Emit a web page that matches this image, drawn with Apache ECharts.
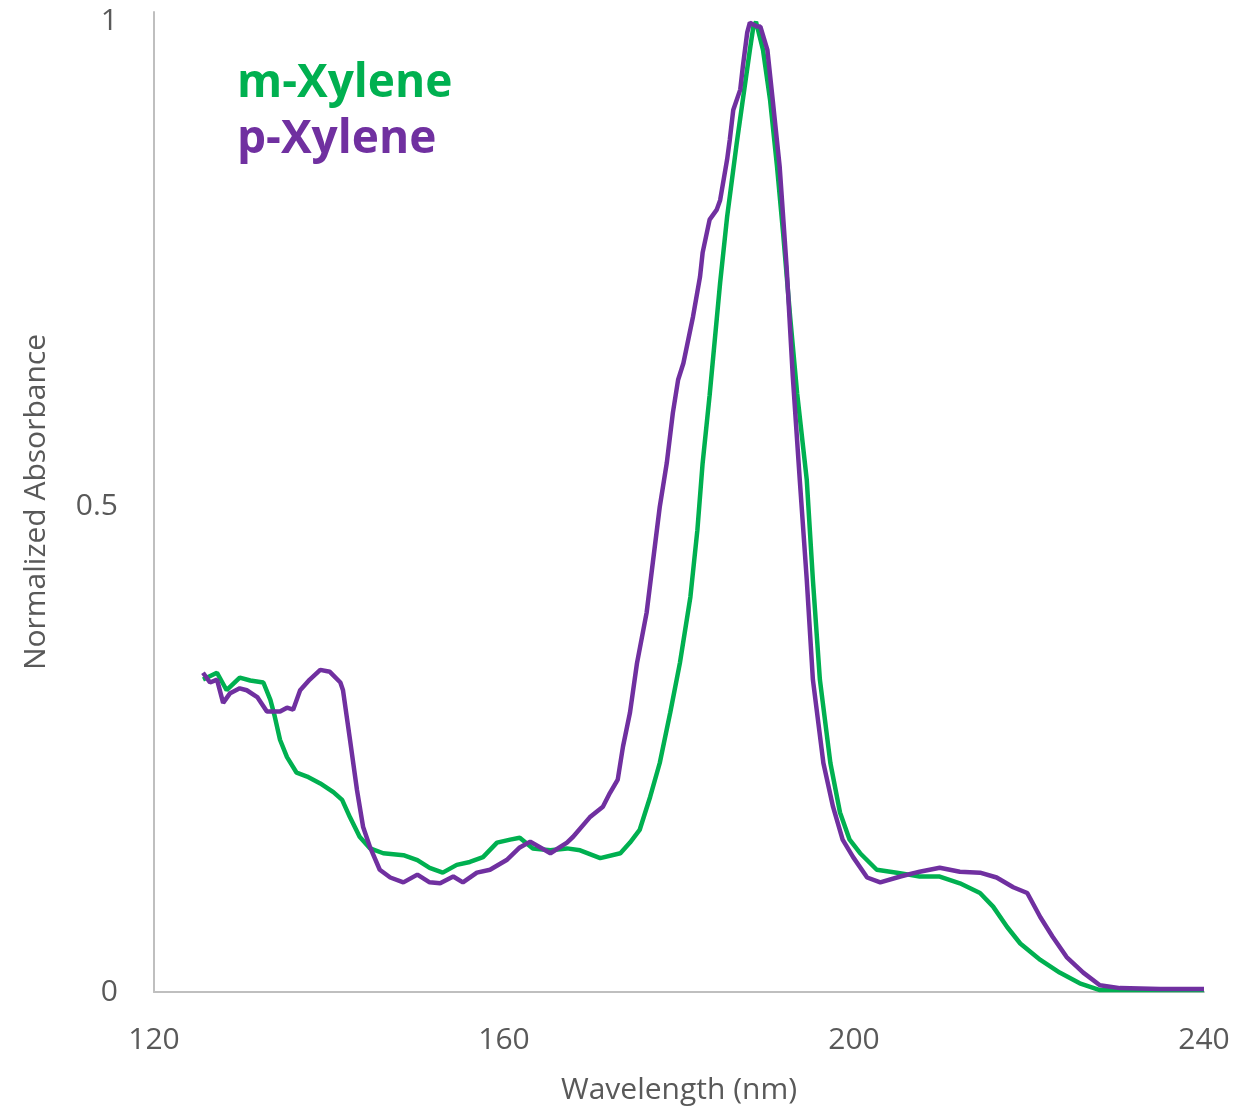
<!DOCTYPE html>
<html>
<head>
<meta charset="utf-8">
<title>Xylene absorbance</title>
<script src="https://cdn.jsdelivr.net/npm/echarts@6/dist/echarts.min.js"></script>
<style>
  html, body { margin: 0; padding: 0; background: #fff; }
  #chart { width: 1239px; height: 1111px; }
</style>
</head>
<body>
<div id="chart"></div>
<script>
// wavelength (nm) / normalized absorbance
const mXylene = [
  [125.6, 0.322], [127.2, 0.329], [128.3, 0.311], [129.8, 0.324], [131.0, 0.321],
  [132.5, 0.319], [133.3, 0.301], [133.8, 0.284], [134.4, 0.260], [135.2, 0.242],
  [136.3, 0.226], [137.5, 0.222], [139.0, 0.215], [140.5, 0.206], [141.5, 0.198],
  [142.4, 0.180], [143.5, 0.160], [144.7, 0.148], [146.2, 0.143], [148.5, 0.141],
  [150.1, 0.136], [151.5, 0.128], [153.0, 0.123], [154.6, 0.131], [156.1, 0.134],
  [157.6, 0.139], [159.2, 0.154], [160.7, 0.157], [161.8, 0.159], [163.3, 0.148],
  [165.3, 0.146], [167.2, 0.148], [168.7, 0.146], [171.0, 0.138], [173.3, 0.143],
  [174.4, 0.154], [175.5, 0.167], [176.7, 0.201], [177.8, 0.236], [179.0, 0.288],
  [180.1, 0.339], [181.3, 0.407], [182.1, 0.476], [182.7, 0.545], [183.5, 0.615],
  [184.7, 0.731], [185.5, 0.799], [186.6, 0.875], [187.3, 0.920], [188.1, 0.971],
  [188.5, 0.995], [188.8, 1.000], [189.6, 0.971], [190.4, 0.920], [191.2, 0.851],
  [191.9, 0.782], [192.7, 0.696], [193.5, 0.617], [194.6, 0.528], [195.3, 0.425],
  [196.1, 0.322], [197.3, 0.236], [198.4, 0.185], [199.5, 0.157], [200.7, 0.143],
  [202.6, 0.126], [204.9, 0.123], [207.5, 0.119], [209.8, 0.119], [212.1, 0.112],
  [214.4, 0.102], [215.9, 0.088], [217.5, 0.067], [219.0, 0.050], [221.3, 0.033],
  [223.5, 0.020], [225.8, 0.009], [228.1, 0.002], [233.8, 0.002], [240.0, 0.002]
];
const pXylene = [
  [125.6, 0.329], [126.4, 0.319], [127.2, 0.322], [127.9, 0.298], [128.7, 0.308],
  [129.8, 0.313], [130.6, 0.311], [131.8, 0.304], [132.9, 0.289], [134.4, 0.289],
  [135.2, 0.293], [135.9, 0.291], [136.7, 0.311], [137.8, 0.322], [139.0, 0.332],
  [140.1, 0.330], [141.3, 0.319], [141.6, 0.311], [142.4, 0.260], [143.2, 0.208],
  [143.9, 0.170], [144.7, 0.149], [145.8, 0.126], [147.0, 0.118], [148.5, 0.113],
  [150.1, 0.121], [151.5, 0.113], [152.7, 0.112], [154.2, 0.119], [155.3, 0.113],
  [156.9, 0.123], [158.4, 0.126], [160.3, 0.136], [161.8, 0.149], [163.0, 0.155],
  [165.3, 0.143], [167.2, 0.154], [167.9, 0.160], [169.8, 0.180], [171.3, 0.191],
  [172.1, 0.205], [173.0, 0.219], [173.6, 0.253], [174.4, 0.288], [175.2, 0.339],
  [176.3, 0.391], [177.0, 0.442], [177.8, 0.500], [178.6, 0.545], [179.3, 0.597],
  [179.9, 0.631], [180.5, 0.648], [181.6, 0.696], [182.4, 0.737], [182.7, 0.762],
  [183.5, 0.796], [184.3, 0.806], [184.7, 0.816], [185.5, 0.858], [185.8, 0.878],
  [186.2, 0.909], [187.0, 0.930], [187.3, 0.954], [187.8, 0.989], [188.1, 0.999],
  [188.9, 0.995], [189.3, 0.995], [190.1, 0.971], [190.7, 0.920], [191.5, 0.851],
  [192.3, 0.747], [193.0, 0.635], [193.8, 0.528], [194.6, 0.425], [195.3, 0.322],
  [196.5, 0.236], [197.6, 0.191], [198.7, 0.157], [199.9, 0.139], [201.5, 0.118],
  [203.0, 0.113], [205.3, 0.119], [207.5, 0.124], [209.8, 0.128], [212.1, 0.124],
  [214.4, 0.123], [216.3, 0.118], [218.2, 0.108], [219.8, 0.102], [221.3, 0.077],
  [222.7, 0.057], [224.3, 0.036], [226.2, 0.020], [228.1, 0.007], [230.4, 0.004],
  [235.0, 0.003], [240.0, 0.003]
];
const seriesNames = ['m-Xylene', 'p-Xylene'];
const seriesColors = ['#00b050', '#7030a0'];

const chart = echarts.init(document.getElementById('chart'));
const axisFont = {
  color: '#595959',
  fontSize: 30,
  fontFamily: 'Open Sans'
};
chart.setOption({
  animation: false,
  grid: { left: 154, right: 35, top: 12, bottom: 119, outerBoundsMode: 'none' },
  legend: {
    orient: 'vertical',
    left: 227,
    top: 56,
    icon: 'none',
    itemWidth: 0,
    itemGap: 10,
    selectedMode: false,
    textStyle: { fontSize: 46, fontWeight: 'bold', fontFamily: 'Open Sans' },
    data: seriesNames.map((n, i) => ({ name: n, textStyle: { color: seriesColors[i] } }))
  },
  xAxis: {
    type: 'value',
    min: 120,
    max: 240,
    interval: 40,
    name: 'Wavelength (nm)',
    nameLocation: 'middle',
    nameGap: 83,
    nameTextStyle: axisFont,
    axisLine: { lineStyle: { color: '#bfbfbf', width: 2 } },
    axisTick: { show: false },
    splitLine: { show: false },
    axisLabel: Object.assign({ margin: 33 }, axisFont)
  },
  yAxis: {
    type: 'value',
    min: 0,
    max: 1.01,
    interval: 0.5,
    name: 'Normalized Absorbance',
    nameLocation: 'middle',
    nameGap: 103,
    nameTextStyle: axisFont,
    axisLine: { show: true, lineStyle: { color: '#bfbfbf', width: 2 } },
    axisTick: { show: false },
    splitLine: { show: false },
    axisLabel: Object.assign({ margin: 36, showMaxLabel: false }, axisFont)
  },
  series: [
    {
      name: seriesNames[0],
      type: 'line',
      data: mXylene,
      showSymbol: false,
      color: seriesColors[0],
      lineStyle: { width: 4.5 }
    },
    {
      name: seriesNames[1],
      type: 'line',
      data: pXylene,
      showSymbol: false,
      color: seriesColors[1],
      lineStyle: { width: 4.5 }
    }
  ]
});
</script>
</body>
</html>
